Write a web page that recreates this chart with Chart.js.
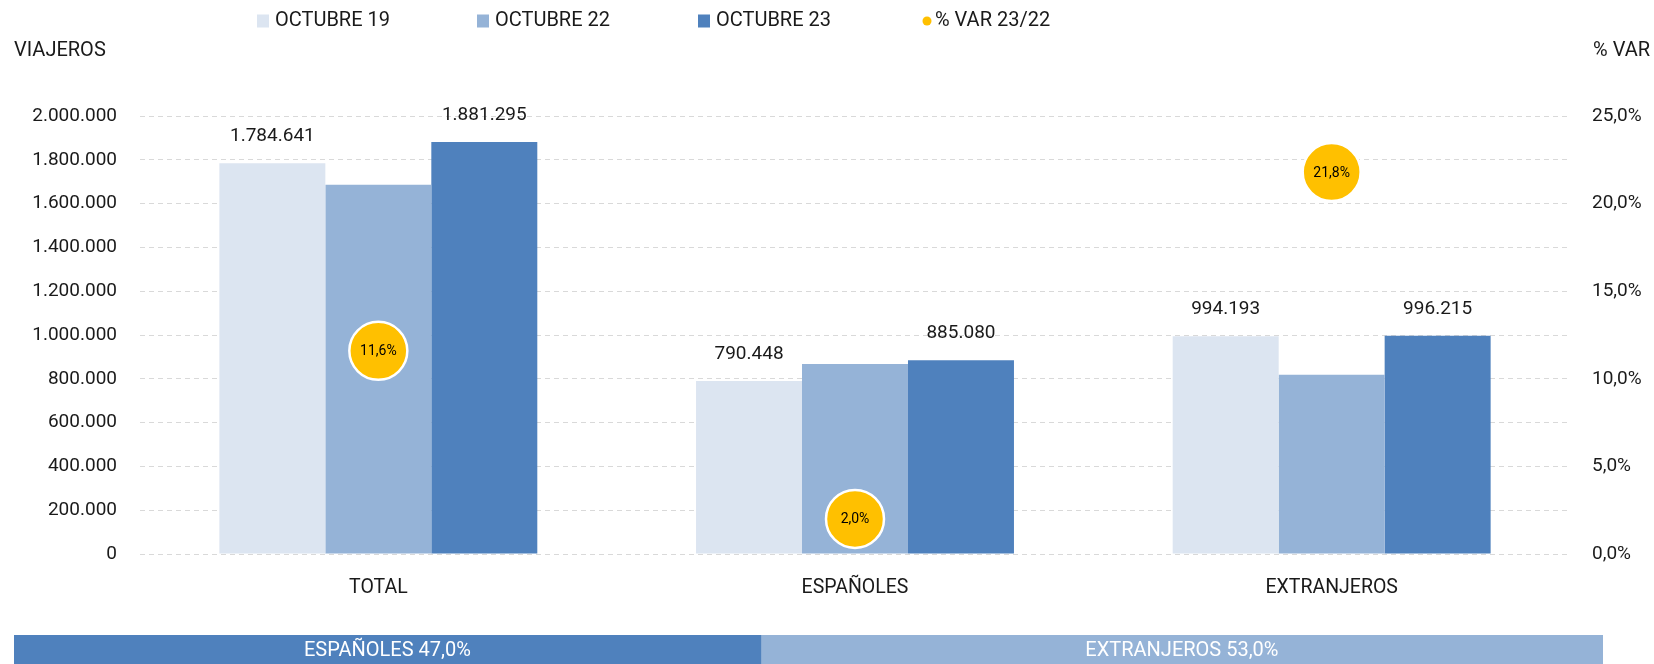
<!DOCTYPE html>
<html><head><meta charset="utf-8">
<script src="https://cdn.jsdelivr.net/npm/chart.js@4.4.0/dist/chart.umd.min.js"></script>
<style>
html,body{margin:0;padding:0;background:#fff;}
#wrap{position:relative;width:1654px;height:664px;overflow:hidden;background:#fff;}
#main{position:absolute;left:0;top:0;}
#share{position:absolute;left:14px;top:635px;}
</style></head><body>
<div id="wrap"><canvas id="main" width="1654" height="620"></canvas><canvas id="share" width="1589" height="29"></canvas></div>
<script>
// ---- data ----
const categories = ['TOTAL', 'ESPAÑOLES', 'EXTRANJEROS'];
const seriesNames = ['OCTUBRE 19', 'OCTUBRE 22', 'OCTUBRE 23'];
const oct19 = [1784641, 790448, 994193];
const oct22 = [1686000, 868000, 818000];
const oct23 = [1881295, 885080, 996215];
const varName = '% VAR 23/22';
const var2322 = [11.6, 2.0, 21.8];
const leftTitle = 'VIAJEROS';
const rightTitle = '% VAR';
const shareLabels = ['ESPAÑOLES', 'EXTRANJEROS'];
const shareValues = [47.0, 53.0];

// ---- style ----
const FONT = "Roboto, 'Liberation Sans', sans-serif";
const colors = ['#DCE5F1', '#95B3D7', '#4F81BD'];
const varColor = '#FFC000';
const TXT = '#1a1a1a';

function fmtInt(v) {
  const s = Math.round(v).toString();
  return s.replace(/\B(?=(\d{3})+(?!\d))/g, '.');
}
function fmtPct(v) { return v.toFixed(1).replace('.', ',') + '%'; }

Chart.defaults.font.family = FONT;
Chart.defaults.font.size = 19;
Chart.defaults.color = TXT;

const legendPlugin = {
  id: 'customLegend',
  afterDraw(chart) {
    const ctx = chart.ctx;
    const xs = [257, 477, 698, 923];
    const cy = 21;
    ctx.save();
    ctx.font = '20px ' + FONT;
    ctx.textBaseline = 'middle';
    ctx.textAlign = 'left';
    chart.data.datasets.forEach((ds, i) => {
      const x = xs[i];
      if (ds.type === 'line') {
        ctx.fillStyle = ds.backgroundColor;
        ctx.beginPath(); ctx.arc(x + 4, cy, 4.5, 0, Math.PI * 2); ctx.fill();
        ctx.fillStyle = TXT;
        ctx.fillText(ds.label, x + 12, cy);
      } else {
        ctx.fillStyle = ds.backgroundColor;
        ctx.fillRect(x, cy - 6.5, 12, 13);
        ctx.fillStyle = TXT;
        ctx.fillText(ds.label, x + 18, cy);
      }
    });
    // axis titles
    ctx.fillText(leftTitle, 14, 51);
    ctx.textAlign = 'right';
    ctx.fillText(rightTitle, 1650, 51);
    ctx.restore();
  }
};

const labelPlugin = {
  id: 'valueLabels',
  afterDatasetsDraw(chart) {
    const ctx = chart.ctx;
    ctx.save();
    ctx.textAlign = 'center';
    ctx.textBaseline = 'middle';
    chart.data.datasets.forEach((ds, i) => {
      const meta = chart.getDatasetMeta(i);
      if (ds.type === 'line') {
        ctx.font = '14px ' + FONT;
        ctx.fillStyle = '#000';
        meta.data.forEach((pt, j) => ctx.fillText(fmtPct(ds.data[j]), pt.x, pt.y + 1));
      } else if (i === 0 || i === 2) {
        ctx.font = '19px ' + FONT;
        ctx.fillStyle = TXT;
        meta.data.forEach((bar, j) => ctx.fillText(fmtInt(ds.data[j]), bar.x, bar.y - 27));
      }
    });
    ctx.restore();
  }
};

new Chart(document.getElementById('main'), {
  type: 'bar',
  data: {
    labels: categories,
    datasets: [
      { label: seriesNames[0], data: oct19, backgroundColor: colors[0], yAxisID: 'y', order: 2 },
      { label: seriesNames[1], data: oct22, backgroundColor: colors[1], yAxisID: 'y', order: 2 },
      { label: seriesNames[2], data: oct23, backgroundColor: colors[2], yAxisID: 'y', order: 2 },
      { type: 'line', label: varName, data: var2322, yAxisID: 'y1', showLine: false, order: 0,
        backgroundColor: varColor, borderColor: '#ffffff', pointBackgroundColor: varColor,
        pointBorderColor: '#ffffff', pointBorderWidth: 2.5, pointRadius: 29, pointHoverRadius: 29 }
    ]
  },
  options: {
    responsive: false,
    animation: false,
    events: [],
    layout: { padding: { top: 116, left: 0, right: 0, bottom: 0 } },
    datasets: { bar: { categoryPercentage: 0.667, barPercentage: 1.0 } },
    plugins: { legend: { display: false }, tooltip: { enabled: false } },
    scales: {
      x: {
        grid: { display: false },
        border: { display: false },
        ticks: { padding: 14, font: { size: 19.5 }, color: TXT },
        afterFit(s) { s.height = 66; }
      },
      y: {
        position: 'left',
        min: 0, max: 2000000,
        ticks: { stepSize: 200000, padding: 23, callback: v => fmtInt(v), font: { size: 19 }, color: TXT },
        grid: { color: '#d9d9d9', lineWidth: 1, drawTicks: false },
        border: { display: false, dash: [5, 4] },
        afterFit(s) { s.width = 140; }
      },
      y1: {
        position: 'right',
        min: 0, max: 25,
        ticks: { stepSize: 5, padding: 22, callback: v => fmtPct(v), font: { size: 19 }, color: TXT },
        grid: { display: false, drawTicks: false },
        border: { display: false },
        afterFit(s) { s.width = 84; }
      }
    }
  },
  plugins: [legendPlugin, labelPlugin]
});

const shareLabelPlugin = {
  id: 'shareLabels',
  afterDatasetsDraw(chart) {
    const ctx = chart.ctx;
    ctx.save();
    ctx.font = '20px ' + FONT;
    ctx.fillStyle = '#ffffff';
    ctx.textAlign = 'center';
    ctx.textBaseline = 'middle';
    chart.data.datasets.forEach((ds, i) => {
      const bar = chart.getDatasetMeta(i).data[0];
      const cx = (bar.x + bar.base) / 2;
      ctx.fillText(ds.label + ' ' + fmtPct(ds.data[0]), cx, bar.y + 1);
    });
    ctx.restore();
  }
};

new Chart(document.getElementById('share'), {
  type: 'bar',
  data: {
    labels: [''],
    datasets: [
      { label: shareLabels[0], data: [shareValues[0]], backgroundColor: '#4F81BD' },
      { label: shareLabels[1], data: [shareValues[1]], backgroundColor: '#95B3D7' }
    ]
  },
  options: {
    indexAxis: 'y',
    responsive: false,
    animation: false,
    events: [],
    layout: { padding: 0 },
    datasets: { bar: { categoryPercentage: 1, barPercentage: 1 } },
    plugins: { legend: { display: false }, tooltip: { enabled: false } },
    scales: {
      x: { stacked: true, min: 0, max: 100, display: false },
      y: { stacked: true, display: false }
    }
  },
  plugins: [shareLabelPlugin]
});
</script>
</body></html>
